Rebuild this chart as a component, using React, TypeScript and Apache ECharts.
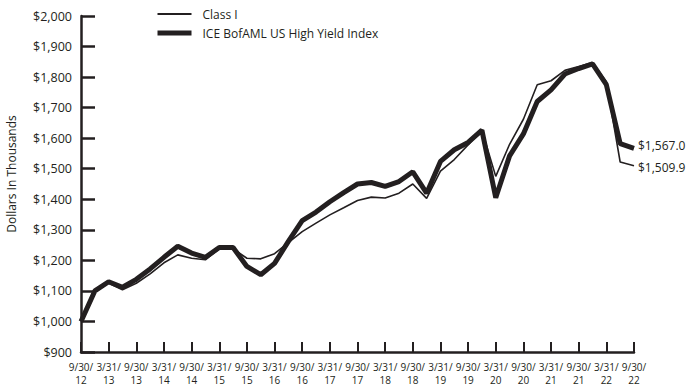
import React, { useEffect, useRef } from "react";
import * as echarts from "echarts";

const dates = [
  "9/30/12", "12/31/12", "3/31/13", "6/30/13", "9/30/13", "12/31/13",
  "3/31/14", "6/30/14", "9/30/14", "12/31/14", "3/31/15", "6/30/15",
  "9/30/15", "12/31/15", "3/31/16", "6/30/16", "9/30/16", "12/31/16",
  "3/31/17", "6/30/17", "9/30/17", "12/31/17", "3/31/18", "6/30/18",
  "9/30/18", "12/31/18", "3/31/19", "6/30/19", "9/30/19", "12/31/19",
  "3/31/20", "6/30/20", "9/30/20", "12/31/20", "3/31/21", "6/30/21",
  "9/30/21", "12/31/21", "3/31/22", "6/30/22", "9/30/22",
];

const classI = [
  1000, 1100, 1125, 1104, 1125, 1156, 1192, 1218, 1207, 1202, 1238, 1238,
  1207, 1205, 1222, 1258, 1294, 1322, 1349, 1372, 1396, 1407, 1404, 1420,
  1450, 1403, 1492, 1530, 1578, 1626, 1475, 1580, 1662, 1775, 1788, 1822,
  1835, 1848, 1785, 1522, 1509.9,
];

const hyIndex = [
  1000, 1100, 1130, 1112, 1138, 1172, 1210, 1246, 1224, 1210, 1242, 1242,
  1180, 1153, 1190, 1262, 1330, 1358, 1392, 1422, 1450, 1455, 1442, 1458,
  1490, 1420, 1524, 1562, 1586, 1626, 1405, 1542, 1614, 1720, 1758, 1810,
  1828, 1843, 1775, 1582, 1567.0,
];

const seriesNames = ["Class I", "ICE BofAML US High Yield Index"];
const yTicks = { min: 900, max: 2000, interval: 100 };

const INK = "#231f20";
const FONT = "'Open Sans', 'Noto Sans', sans-serif";
const THIN = 1.6;
const THICK = 5;

export default function App() {
  const ref = useRef<HTMLDivElement>(null);
  useEffect(() => {
    document.body.style.margin = "0";
    if (!ref.current) return;
    const chart = echarts.init(ref.current, null, { renderer: "svg" });
    const money = (v: number) =>
      "$" + v.toLocaleString("en-US", { minimumFractionDigits: 1, maximumFractionDigits: 1 });
    chart.setOption({
      animation: false,
      backgroundColor: "#ffffff",
      textStyle: { fontFamily: FONT, color: INK },
      grid: {
        left: 81,
        right: 52,
        top: 16,
        bottom: 36,
        containLabel: false,
        outerBoundsMode: "none",
      },
      legend: {
        left: 150,
        top: 3,
        orient: "vertical",
        itemWidth: 34,
        itemHeight: 14,
        itemGap: 7,
        itemStyle: { opacity: 0 },
        textStyle: { fontFamily: FONT, fontSize: 12, color: INK, padding: [0, 0, 0, 6] },
        data: [
          { name: seriesNames[0], lineStyle: { width: THIN + 0.4, color: INK } },
          { name: seriesNames[1], lineStyle: { width: THICK, color: INK } },
        ],
      },
      xAxis: {
        type: "category",
        data: dates,
        boundaryGap: false,
        axisLine: { lineStyle: { color: INK, width: 2.5 } },
        axisTick: {
          inside: true,
          length: 10,
          interval: 1,
          lineStyle: { color: INK, width: 2 },
        },
        axisLabel: {
          interval: 1,
          margin: 8,
          fontSize: 10,
          lineHeight: 13,
          color: INK,
          fontFamily: FONT,
          formatter: (v: string) => {
            const i = v.lastIndexOf("/");
            return v.slice(0, i + 1) + "\n" + v.slice(i + 1);
          },
        },
        splitLine: { show: false },
      },
      yAxis: {
        type: "value",
        min: yTicks.min,
        max: yTicks.max,
        interval: yTicks.interval,
        name: "Dollars In Thousands",
        nameLocation: "middle",
        nameGap: 64,
        nameRotate: 90,
        nameTextStyle: { fontSize: 12, color: INK, fontFamily: FONT, padding: [0, 0, 0, 20] },
        axisLine: { show: true, lineStyle: { color: INK, width: 2.5 } },
        axisTick: { show: true, inside: true, length: 14, lineStyle: { color: INK, width: 2.5 } },
        axisLabel: {
          margin: 9,
          fontSize: 12.5,
          color: INK,
          fontFamily: FONT,
          formatter: (v: number) => "$" + v.toLocaleString("en-US"),
        },
        splitLine: { show: false },
      },
      series: [
        {
          name: seriesNames[0],
          type: "line",
          data: classI,
          symbol: "none",
          z: 3,
          lineStyle: { color: INK, width: THIN },
          itemStyle: { color: INK },
          endLabel: {
            show: true,
            distance: 4,
            offset: [0, 2],
            fontSize: 12,
            color: INK,
            fontFamily: FONT,
            formatter: (p: any) => money(p.value),
          },
        },
        {
          name: seriesNames[1],
          type: "line",
          data: hyIndex,
          symbol: "none",
          z: 2,
          lineStyle: { color: INK, width: THICK },
          itemStyle: { color: INK },
          endLabel: {
            show: true,
            distance: 4,
            offset: [0, -3],
            fontSize: 12,
            color: INK,
            fontFamily: FONT,
            formatter: (p: any) => money(p.value),
          },
        },
      ],
    });
    return () => chart.dispose();
  }, []);
  return (
    <div
      ref={ref}
      style={{ position: "absolute", left: 0, top: 0, width: 686, height: 388 }}
    />
  );
}
